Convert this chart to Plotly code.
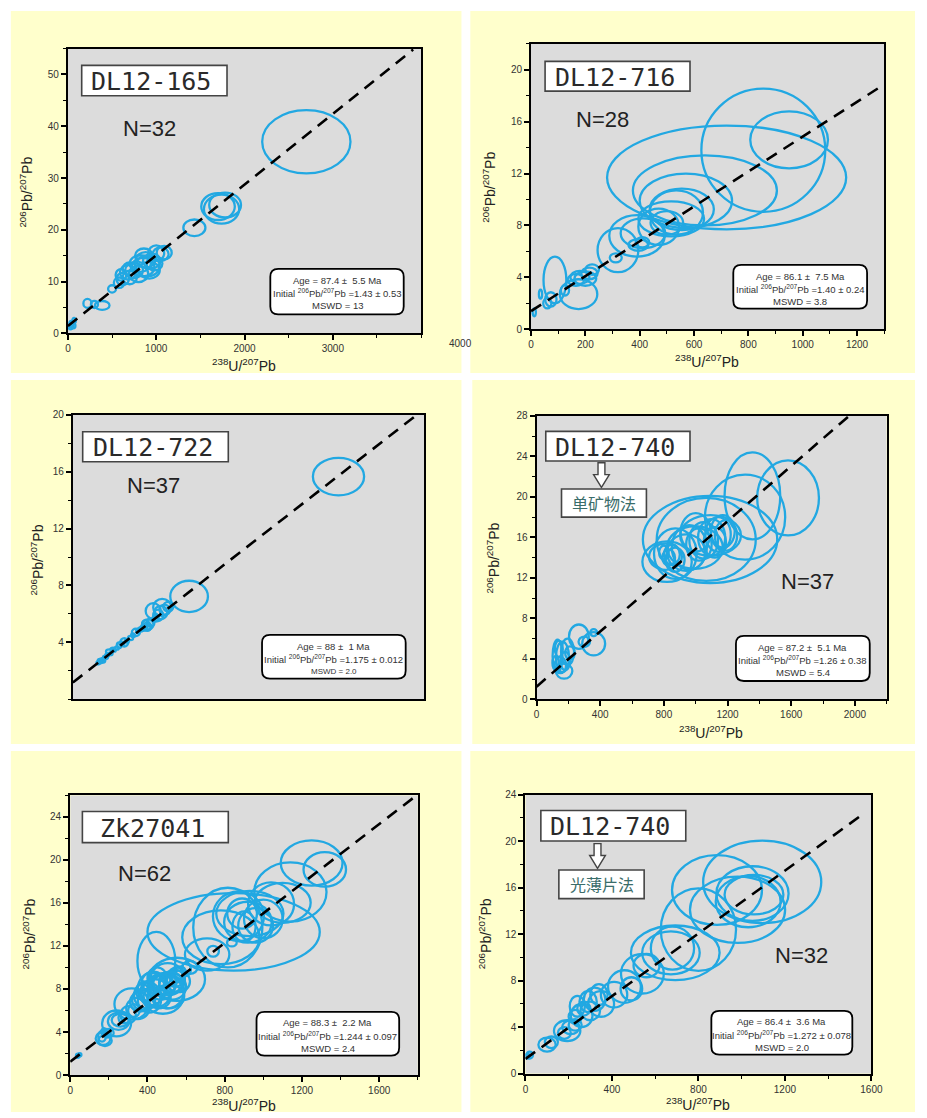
import math
import plotly.graph_objects as go

# ---------------- data ----------------
LAMBDA_238 = 1.55125e-10  # decay constant of 238U (1/yr)

samples = ["DL12-165", "DL12-716", "DL12-722", "DL12-740", "Zk27041", "DL12-740"]
n_labels = ["N=32", "N=28", "N=37", "N=37", "N=62", "N=32"]
methods = [None, None, None, "单矿物法", None, "光薄片法"]
ages = [87.4, 86.1, 88.0, 87.2, 88.3, 86.4]
age_txt = ["87.4", "86.1", "88", "87.2", "88.3", "86.4"]
age_err = ["5.5", "7.5", "1", "5.1", "2.2", "3.6"]
intercepts = [1.43, 1.40, 1.175, 1.26, 1.244, 1.272]
int_txt = ["1.43", "1.40", "1.175", "1.26", "1.244", "1.272"]
int_err = ["0.53", "0.24", "0.012", "0.38", "0.097", "0.078"]
mswd = ["13", "3.8", "2.0", "5.4", "2.4", "2.0"]
line_x_end = [3910, 1300, 1370, 1963, 1795, 1553]

x_ranges = [[0, 4000], [0, 1300], [0, 1400], [0, 2200], [0, 1800], [0, 1600]]
y_ranges = [[0, 55], [0, 22], [0, 20], [0, 28], [0, 26], [0, 24]]
x_ticks = [[0, 1000, 2000, 3000], [0, 200, 400, 600, 800, 1000, 1200], [],
           [0, 400, 800, 1200, 1600, 2000], [0, 400, 800, 1200, 1600],
           [0, 400, 800, 1200, 1600]]
x_minor = [500, 100, None, 200, 200, 200]
y_ticks = [[0, 10, 20, 30, 40, 50], [0, 4, 8, 12, 16, 20], [4, 8, 12, 16, 20],
           [0, 4, 8, 12, 16, 20, 24, 28], [0, 4, 8, 12, 16, 20, 24],
           [0, 4, 8, 12, 16, 20, 24]]
y_minor = [5, 2, 2, 2, 2, 2]

# error ellipses: (238U/207Pb centre, 206Pb/207Pb centre, x semi-axis, y semi-axis)
ell_165 = [
    (2700, 37.0, 500, 6.1), (1700, 24.5, 190, 2.6), (1740, 24.0, 200, 2.8),
    (1780, 24.8, 180, 2.4), (1432, 20.4, 125, 1.6), (500, 8.6, 45, 0.7),
    (580, 9.8, 60, 1.0), (600, 11.3, 60, 1.1), (620, 10.5, 70, 1.2),
    (680, 11.8, 90, 1.4), (700, 10.8, 80, 1.3), (700, 12.5, 80, 1.2),
    (750, 12.2, 100, 1.5), (800, 11.5, 110, 1.6), (820, 13.5, 120, 1.6),
    (850, 12.8, 130, 1.8), (860, 15.0, 100, 1.4), (880, 14.2, 110, 1.5),
    (900, 13.0, 140, 2.0), (920, 12.2, 120, 1.6), (950, 14.0, 100, 1.4),
    (980, 13.5, 90, 1.3), (1000, 15.5, 90, 1.5), (1050, 15.3, 90, 1.3),
    (1090, 15.6, 85, 1.3), (221, 5.8, 46, 0.86), (300, 5.6, 40, 0.7),
    (388, 5.4, 83, 0.86), (30, 1.2, 20, 0.4), (40, 1.8, 25, 0.6),
    (60, 1.5, 25, 0.5), (70, 2.5, 20, 0.5),
]
ell_716 = [
    (855, 13.8, 228, 4.75), (950, 14.6, 143, 2.2), (720, 11.7, 440, 4.0),
    (640, 10.7, 265, 2.7), (570, 9.9, 170, 2.1), (555, 9.24, 118, 1.6),
    (535, 9.0, 98, 1.7), (516, 8.5, 121, 1.35), (500, 8.2, 60, 0.9),
    (470, 7.9, 75, 1.4), (412, 7.4, 82, 1.15), (390, 7.2, 102, 1.6),
    (320, 6.1, 75, 1.7), (395, 6.5, 36, 0.45), (410, 6.7, 25, 0.4),
    (312, 5.5, 22, 0.35), (88, 3.8, 42, 1.8), (175, 2.7, 69, 1.15),
    (165, 3.8, 30, 0.45), (180, 4.0, 35, 0.5), (200, 3.9, 40, 0.55),
    (215, 4.3, 30, 0.45), (225, 4.6, 25, 0.4), (125, 3.0, 15, 0.4),
    (73, 2.3, 21, 0.55), (60, 2.0, 15, 0.4), (35, 2.7, 6, 0.35),
    (12, 1.3, 6, 0.3),
]
ell_722 = [
    (1058, 15.66, 102, 1.32), (463, 7.23, 75, 1.1), (320, 6.2, 30, 0.55),
    (356, 6.45, 36, 0.6), (350, 6.1, 26, 0.47), (365, 6.3, 20, 0.35),
    (380, 6.5, 20, 0.35), (340, 5.9, 20, 0.4), (330, 5.7, 12, 0.25),
    (310, 5.4, 15, 0.3), (298, 5.25, 23, 0.37), (296, 5.1, 16, 0.3),
    (300, 5.1, 10, 0.2), (290, 5.3, 14, 0.25), (280, 5.0, 12, 0.2),
    (270, 4.9, 10, 0.15), (260, 4.8, 8, 0.15), (251, 4.7, 16, 0.26),
    (240, 4.5, 8, 0.12), (230, 4.3, 10, 0.15), (215, 4.1, 8, 0.12),
    (205, 4.0, 16, 0.3), (195, 3.9, 10, 0.15), (185, 3.8, 10, 0.2),
    (175, 3.6, 8, 0.12), (165, 3.45, 6, 0.1), (160, 3.5, 10, 0.12),
    (150, 3.2, 8, 0.1), (146, 3.35, 14, 0.15), (137, 3.1, 8, 0.1),
    (130, 2.95, 10, 0.12), (125, 2.85, 6, 0.1), (120, 2.8, 8, 0.1),
    (114, 2.7, 15, 0.15), (110, 2.65, 6, 0.1), (105, 2.6, 8, 0.1),
    (100, 2.55, 6, 0.1),
]
ell_740a = [
    (1580, 19.9, 194, 3.7), (1356, 20.1, 175, 4.3), (1310, 18.0, 252, 4.2),
    (1090, 15.8, 422, 4.3), (1066, 15.8, 311, 4.1), (1093, 16.2, 191, 2.0),
    (995, 15.0, 175, 2.1), (1000, 16.5, 95, 1.9), (1020, 15.3, 80, 1.6),
    (1050, 15.7, 90, 1.8), (1100, 16.0, 85, 1.8), (1120, 15.5, 70, 1.5),
    (1140, 16.3, 80, 1.7), (1170, 16.6, 75, 1.6), (1190, 16.2, 70, 1.5),
    (960, 15.0, 110, 2.2), (940, 14.5, 120, 1.8), (872, 14.4, 134, 2.5),
    (820, 13.6, 155, 2.0), (810, 14.1, 103, 1.3), (870, 13.8, 60, 1.2),
    (850, 14.3, 50, 1.0), (830, 14.0, 40, 0.8), (800, 14.5, 30, 0.7),
    (359, 5.5, 72, 1.15), (359, 6.6, 21, 0.35), (300, 5.7, 36, 0.5),
    (266, 6.2, 62, 1.2), (210, 4.6, 30, 0.65), (195, 4.7, 41, 1.3),
    (163, 4.2, 41, 1.5), (140, 5.0, 25, 0.8), (132, 4.3, 31, 1.6),
    (150, 3.4, 36, 0.8), (120, 3.6, 20, 0.7), (180, 3.8, 30, 0.9),
    (173, 2.8, 52, 0.75),
]
ell_27041 = [
    (1250, 19.7, 160, 2.1), (1318, 19.1, 110, 1.6), (1140, 17.0, 187, 2.75),
    (846, 13.3, 446, 3.6), (816, 13.7, 179, 3.7), (871, 14.75, 132, 2.3),
    (930, 15.0, 174, 2.1), (920, 14.2, 123, 1.9), (890, 15.0, 77, 1.4),
    (1040, 15.9, 119, 2.0), (1100, 16.0, 145, 1.85), (900, 13.8, 60, 1.4),
    (960, 13.9, 90, 1.6), (1000, 14.5, 100, 1.8), (837, 12.3, 25, 0.35),
    (740, 11.5, 30, 0.5), (709, 11.2, 115, 1.5), (620, 10.0, 40, 0.6),
    (446, 10.6, 98, 2.7), (553, 8.9, 145, 2.0), (505, 8.9, 89, 1.5),
    (600, 9.8, 25, 0.6), (570, 9.5, 30, 0.6), (560, 8.7, 60, 1.0),
    (550, 9.3, 40, 0.7), (540, 9.0, 50, 0.8), (530, 8.2, 70, 1.2),
    (520, 8.6, 60, 1.0), (510, 7.3, 80, 1.1), (500, 7.8, 90, 1.6),
    (490, 8.5, 60, 1.0), (480, 7.5, 110, 1.8), (470, 8.2, 70, 1.2),
    (460, 7.2, 60, 1.0), (455, 8.3, 50, 0.9), (450, 9.0, 50, 1.0),
    (440, 7.6, 80, 1.3), (430, 8.6, 60, 1.0), (425, 7.3, 45, 0.8),
    (420, 8.0, 70, 1.5), (410, 6.9, 60, 1.1), (400, 7.4, 70, 1.2),
    (390, 7.8, 50, 0.9), (380, 7.0, 60, 1.0), (360, 6.8, 50, 0.9),
    (350, 6.2, 60, 1.0), (330, 6.0, 30, 0.6), (318, 6.6, 89, 1.45),
    (300, 5.6, 40, 0.8), (280, 5.3, 30, 0.5), (260, 5.1, 45, 0.6),
    (250, 5.0, 55, 0.8), (240, 4.8, 75, 1.2), (200, 3.9, 25, 0.4),
    (190, 3.9, 20, 0.4), (180, 3.2, 35, 0.5), (175, 4.0, 15, 0.35),
    (170, 3.4, 38, 0.6), (165, 3.6, 20, 0.5), (50, 1.9, 8, 0.15),
    (40, 1.8, 10, 0.2), (780, 12.8, 200, 2.5),
]
ell_740b = [
    (1095, 16.5, 273, 3.55), (886, 15.8, 208, 3.0), (1050, 15.5, 167, 2.35),
    (1057, 15.4, 136, 1.7), (1030, 14.8, 150, 2.2), (981, 14.1, 220, 2.85),
    (800, 12.4, 174, 3.55), (693, 10.4, 205, 2.35), (673, 10.4, 133, 1.85),
    (680, 10.8, 100, 1.85), (560, 9.3, 60, 1.0), (541, 8.6, 99, 1.7),
    (490, 7.3, 50, 1.0), (458, 7.5, 76, 1.4), (410, 6.8, 61, 1.1),
    (350, 6.0, 60, 1.1), (340, 6.8, 40, 0.9), (320, 6.4, 50, 1.0),
    (300, 5.4, 45, 0.8), (290, 6.2, 40, 0.9), (270, 5.6, 30, 0.6),
    (260, 5.0, 50, 1.0), (240, 5.8, 35, 0.9), (230, 4.9, 30, 0.6),
    (230, 4.2, 30, 0.5), (210, 4.0, 40, 0.6), (193, 3.7, 61, 0.9),
    (180, 3.5, 30, 0.5), (120, 2.7, 30, 0.5), (100, 2.5, 40, 0.6),
    (20, 1.6, 15, 0.3), (10, 1.5, 10, 0.2),
]
ellipses = [ell_165, ell_716, ell_722, ell_740a, ell_27041, ell_740b]

# ---------------- layout (pixel geometry) ----------------
W, H = 927, 1118
SANS = "Liberation Sans, Arial, sans-serif"
MONO = "DejaVu Sans Mono, monospace"
CJK = "Noto Sans CJK SC, sans-serif"
BLUE = "#22a8e2"
YELLOW = "#ffffcc"
GRAY = "#dcdcdc"
TXT = "#222222"

panel_bg = [(8, 5, 466, 371), (475, 5, 927, 371), (8, 378, 466, 746),
            (477, 378, 927, 746), (8, 753, 466, 1118), (475, 753, 927, 1118)]
plot_px = [(66, 43, 425, 331), (536.7, 38.3, 895.7, 326.7), (71, 413.3, 428.3, 700.7),
           (542.3, 414.3, 898.3, 701), (68.3, 797.7, 421.7, 1080.7), (531, 797.3, 882.7, 1079.3)]
label_box = [(80, 60, 227.7, 90.7), (551, 56, 698.3, 86), (81, 430.3, 229, 460.7),
             (551.7, 430, 698.3, 460), (80.7, 814.3, 229, 845.7), (546.7, 813.3, 694, 844)]
n_pos = [(149, 124), (609, 115), (153, 485), (818, 581.7), (143.7, 877.3), (811.7, 960)]
stat_box = [(271.7, 265.7, 407.3, 311.7), (742.3, 261.7, 878.3, 306), (263.3, 635.7, 409.3, 680),
            (745, 636.7, 881, 682.3), (257.7, 1016.7, 402.7, 1061), (720, 1015.7, 863.3, 1060)]
method_box = {3: (567.7, 488.3, 654, 516.7), 5: (565, 873.3, 651.7, 902.3)}
arrow_pos = {3: (608.3, 461.7, 486.7), 5: (604.3, 846.7, 871.7)}
ytitle_pos = [(23, 188), (494.3, 183.3), (35, 560), (498.3, 558.3), (26.7, 938.3), (490, 938.3)]
xtitle_pos = [(245, 363), (715.7, 359), None, (720, 733.5), (245, 1110.5), (706.7, 1110)]


def fx(px):
    return px / W


def fy(py):
    return 1 - py / H


def rrect_path(x0, y0, x1, y1, r):
    P = lambda x, y: f"{fx(x):.5f},{fy(y):.5f}"
    return (f"M{P(x0 + r, y0)} L{P(x1 - r, y0)} Q{P(x1, y0)} {P(x1, y0 + r)} "
            f"L{P(x1, y1 - r)} Q{P(x1, y1)} {P(x1 - r, y1)} L{P(x0 + r, y1)} "
            f"Q{P(x0, y1)} {P(x0, y1 - r)} L{P(x0, y0 + r)} Q{P(x0, y0)} {P(x0 + r, y0)} Z")


def arrow_path(cx, top, bottom, sw=3.5, hw=8, hh=13):
    P = lambda x, y: f"{fx(x):.5f},{fy(y):.5f}"
    hb = bottom - hh
    return (f"M{P(cx - sw, top)} L{P(cx + sw, top)} L{P(cx + sw, hb)} L{P(cx + hw, hb)} "
            f"L{P(cx, bottom)} L{P(cx - hw, hb)} L{P(cx - sw, hb)} Z")


fig = go.Figure()
shapes = []
annotations = []
layout = dict(width=W, height=H, margin=dict(l=0, r=0, t=0, b=0), showlegend=False,
              paper_bgcolor="white", plot_bgcolor=GRAY)

# yellow panels
for (x0, y0, x1, y1) in panel_bg:
    shapes.append(dict(type="rect", xref="paper", yref="paper", x0=fx(x0), x1=fx(x1),
                       y0=fy(y1), y1=fy(y0), fillcolor=YELLOW, line=dict(width=0), layer="below"))

for i in range(6):
    xn = "x" if i == 0 else f"x{i + 1}"
    yn = "y" if i == 0 else f"y{i + 1}"
    xa_name = "xaxis" if i == 0 else f"xaxis{i + 1}"
    ya_name = "yaxis" if i == 0 else f"yaxis{i + 1}"
    l, t, r, b = plot_px[i]

    common = dict(showline=True, linecolor="black", linewidth=2, mirror=True,
                  showgrid=False, zeroline=False, ticks="outside", ticklen=5,
                  tickwidth=1.5, tickcolor="black",
                  tickfont=dict(family=SANS, size=10, color="#333333"))
    xa = dict(common, domain=[fx(l), fx(r)], range=x_ranges[i], anchor=yn,
              tickmode="array", tickvals=x_ticks[i])
    if x_minor[i]:
        xa["minor"] = dict(tickmode="linear", tick0=0, dtick=x_minor[i], ticks="outside",
                           ticklen=3, tickwidth=1, tickcolor="black")
    else:
        xa["ticks"] = ""
        xa["showticklabels"] = False
    ya = dict(common, domain=[fy(b), fy(t)], range=y_ranges[i], anchor=xn,
              tickmode="array", tickvals=y_ticks[i],
              minor=dict(tickmode="linear", tick0=0, dtick=y_minor[i], ticks="outside",
                         ticklen=3, tickwidth=1, tickcolor="black"))
    layout[xa_name] = xa
    layout[ya_name] = ya

    # gray plotting area
    shapes.append(dict(type="rect", xref=xn, yref=yn, x0=x_ranges[i][0], x1=x_ranges[i][1],
                       y0=y_ranges[i][0], y1=y_ranges[i][1], fillcolor=GRAY,
                       line=dict(width=0), layer="below"))
    # error ellipses
    for (cx, cy, rx, ry) in ellipses[i]:
        shapes.append(dict(type="circle", xref=xn, yref=yn, x0=cx - rx, x1=cx + rx,
                           y0=cy - ry, y1=cy + ry, line=dict(color=BLUE, width=2.3),
                           layer="below"))

    # isochron line
    slope = math.exp(LAMBDA_238 * ages[i] * 1e6) - 1
    xe = line_x_end[i]
    fig.add_trace(go.Scatter(x=[0, xe], y=[intercepts[i], intercepts[i] + slope * xe],
                             xaxis=xn, yaxis=yn, mode="lines", hoverinfo="skip",
                             line=dict(color="black", width=2.6, dash="12px,8px")))

    # sample label box
    bx0, by0, bx1, by1 = label_box[i]
    shapes.append(dict(type="rect", xref="paper", yref="paper", x0=fx(bx0), x1=fx(bx1),
                       y0=fy(by1), y1=fy(by0), fillcolor="white",
                       line=dict(color="#444444", width=1.6), layer="above"))
    annotations.append(dict(xref="paper", yref="paper", x=fx((bx0 + bx1) / 2 - 3),
                            y=fy((by0 + by1) / 2 + 1), text=samples[i], showarrow=False,
                            xanchor="center", yanchor="middle",
                            font=dict(family=MONO, size=25, color="#2a2a2a")))

    # N label
    annotations.append(dict(xref="paper", yref="paper", x=fx(n_pos[i][0]), y=fy(n_pos[i][1]),
                            text=n_labels[i], showarrow=False, xanchor="center",
                            yanchor="middle", font=dict(family=SANS, size=22, color=TXT)))

    # statistics box
    sx0, sy0, sx1, sy1 = stat_box[i]
    shapes.append(dict(type="path", xref="paper", yref="paper",
                       path=rrect_path(sx0, sy0, sx1, sy1, 8), fillcolor="white",
                       line=dict(color="black", width=1.8), layer="above"))
    scx = (sx0 + sx1) / 2
    lines = [f"Age = {age_txt[i]} ± \u00a0{age_err[i]} Ma",
             f"Initial <sup>206</sup>Pb/<sup>207</sup>Pb ={int_txt[i]} ± {int_err[i]}",
             f"MSWD = {mswd[i]}"]
    for k, (txt, dy) in enumerate(zip(lines, [11.3, 24.3, 37.0])):
        size = 8 if (i == 2 and k == 2) else 9.5
        annotations.append(dict(xref="paper", yref="paper", x=fx(scx), y=fy(sy0 + dy),
                                text=txt, showarrow=False, xanchor="center",
                                yanchor="middle",
                                font=dict(family=SANS, size=size, color="#333333")))

    # axis titles
    annotations.append(dict(xref="paper", yref="paper", x=fx(ytitle_pos[i][0]),
                            y=fy(ytitle_pos[i][1]), textangle=-90,
                            text="<sup>206</sup>Pb/<sup>207</sup>Pb", showarrow=False,
                            xanchor="center", yanchor="middle",
                            font=dict(family=SANS, size=14, color=TXT)))
    if xtitle_pos[i]:
        annotations.append(dict(xref="paper", yref="paper", x=fx(xtitle_pos[i][0]),
                                y=fy(xtitle_pos[i][1]),
                                text="<sup>238</sup>U/<sup>207</sup>Pb", showarrow=False,
                                xanchor="center", yanchor="middle",
                                font=dict(family=SANS, size=14, color=TXT)))

    # method label with hollow arrow
    if methods[i]:
        mx0, my0, mx1, my1 = method_box[i]
        shapes.append(dict(type="rect", xref="paper", yref="paper", x0=fx(mx0), x1=fx(mx1),
                           y0=fy(my1), y1=fy(my0), fillcolor="white",
                           line=dict(color="#444444", width=1.6), layer="above"))
        annotations.append(dict(xref="paper", yref="paper", x=fx((mx0 + mx1) / 2),
                                y=fy((my0 + my1) / 2), text=methods[i], showarrow=False,
                                xanchor="center", yanchor="middle",
                                font=dict(family=CJK, size=16, color="#3a6d6a")))
        acx, atop, abot = arrow_pos[i]
        shapes.append(dict(type="path", xref="paper", yref="paper",
                           path=arrow_path(acx, atop, abot), fillcolor="white",
                           line=dict(color="#444444", width=1.4), layer="above"))

# stray "4000" label of the first panel
annotations.append(dict(xref="paper", yref="paper", x=fx(465), y=fy(341), text="4000",
                        showarrow=False, xanchor="center", yanchor="middle",
                        font=dict(family=SANS, size=10, color="#333333")))

layout["shapes"] = shapes
layout["annotations"] = annotations
fig.update_layout(**layout)
fig.write_html("out.html", config={"displayModeBar": False},
               post_script="document.body.style.margin='0';"
                           "document.documentElement.style.overflow='hidden';")
